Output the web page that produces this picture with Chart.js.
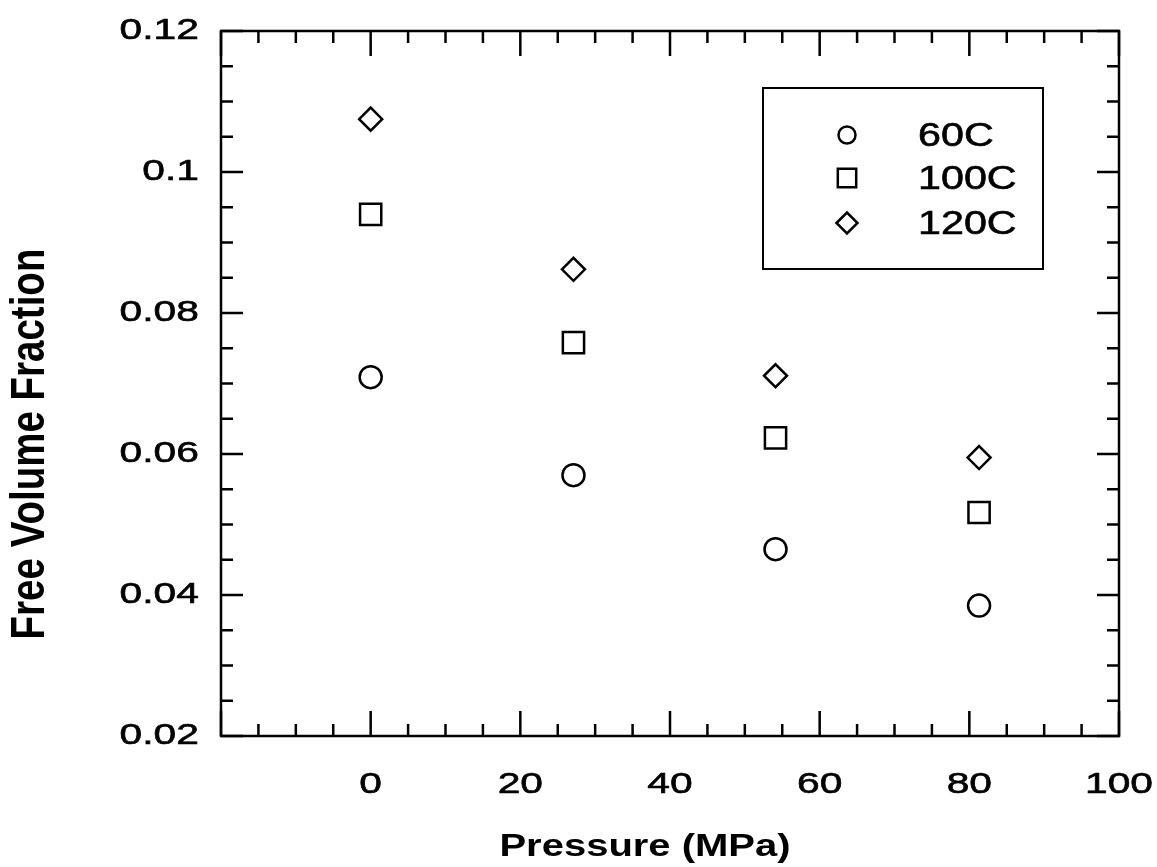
<!DOCTYPE html>
<html>
<head>
<meta charset="utf-8">
<script src="https://cdn.jsdelivr.net/npm/chart.js@4.4.0/dist/chart.umd.min.js"></script>
<style>
  html, body { margin: 0; padding: 0; background: #fff; }
  canvas { display: block; }
</style>
</head>
<body>
<canvas id="fvChart" width="1157" height="867"></canvas>
<script>
let pressure = [0, 27.1, 54.1, 81.3];
let fv60 = [0.0709, 0.0570, 0.0465, 0.0385];
let fv100 = [0.0940, 0.0758, 0.0623, 0.0517];
let fv120 = [0.1075, 0.0862, 0.0711, 0.0595];
let seriesLabels = ['60C', '100C', '120C'];
let xTitle = 'Pressure (MPa)';
let yTitle = 'Free Volume Fraction';

let family = '"Liberation Sans", Arial, Helvetica, sans-serif';
// the scanned figure has wide lettering, so text gets stretched sideways
let tickStretch = 1.36;
let stretch = { k: tickStretch };

function points(ys) {
  return pressure.map((p, i) => ({ x: p, y: ys[i] }));
}

function widen(ctx, name) {
  const orig = ctx[name].bind(ctx);
  ctx[name] = function (text, x, y) {
    const k = stretch.k;
    const m = ctx.getTransform();
    ctx.save();
    if (Math.abs(m.b) > 0.5) {
      ctx.scale(1, k);
      orig(text, x, y / k);
    } else {
      ctx.scale(k, 1);
      orig(text, x / k, y);
    }
    ctx.restore();
  };
}

const wideText = {
  id: 'wideText',
  beforeInit(chart) {
    widen(chart.ctx, 'fillText');
    widen(chart.ctx, 'strokeText');
  }
};

function boldish(ctx, text, x, y, w) {
  ctx.lineWidth = w;
  ctx.strokeText(text, x, y);
  ctx.fillText(text, x, y);
}

const frame = {
  id: 'frame',
  afterDraw(chart) {
    const { ctx, chartArea: a } = chart;
    const x = chart.scales.x, y = chart.scales.y;
    ctx.save();
    ctx.strokeStyle = '#000';
    ctx.lineWidth = 2.5;

    // inward ticks on all four sides
    ctx.beginPath();
    for (let i = 0; i <= 24; i++) {
      const px = x.getPixelForValue(-20 + i * 5);
      const len = i % 4 === 0 ? 25 : 12;
      ctx.moveTo(px, a.bottom); ctx.lineTo(px, a.bottom - len);
      ctx.moveTo(px, a.top); ctx.lineTo(px, a.top + len);
    }
    for (let i = 0; i <= 20; i++) {
      const py = y.getPixelForValue(0.02 + i * 0.005);
      const len = i % 4 === 0 ? 22 : 12;
      ctx.moveTo(a.left, py); ctx.lineTo(a.left + len, py);
      ctx.moveTo(a.right, py); ctx.lineTo(a.right - len, py);
    }
    ctx.stroke();
    ctx.strokeRect(a.left, a.top, a.width, a.height);

    // legend box
    ctx.lineWidth = 2;
    ctx.strokeRect(763, 88, 280, 181);
    const rows = [135, 178, 223];
    const legendSize = [8.5, 13, 10.5];
    chart.data.datasets.forEach((ds, i) => {
      ctx.fillStyle = 'rgba(0,0,0,0)';
      ctx.strokeStyle = '#000';
      ctx.lineWidth = 2.5;
      Chart.helpers.drawPoint(ctx, {
        pointStyle: ds.pointStyle, radius: legendSize[i], rotation: 0, borderWidth: 2.5
      }, 847, rows[i]);
      ctx.fillStyle = '#000';
      ctx.font = '33px ' + family;
      ctx.textAlign = 'left';
      ctx.textBaseline = 'alphabetic';
      stretch.k = 1.25;
      boldish(ctx, ds.label, 918, rows[i] + 11, 0.6);
    });

    // axis titles
    ctx.fillStyle = '#000';
    ctx.textAlign = 'center';
    ctx.textBaseline = 'middle';
    ctx.font = 'bold 31px ' + family;
    stretch.k = 1.29;
    ctx.fillText(xTitle, 645, 847);

    ctx.translate(31, 444);
    ctx.rotate(-Math.PI / 2);
    ctx.font = 'bold 38.5px ' + family;
    stretch.k = 1.25;
    ctx.fillText(yTitle, 0, 0);
    ctx.restore();
    stretch.k = tickStretch;
  }
};

let ctx = document.getElementById('fvChart').getContext('2d');

let fvChart = new Chart(ctx, {
  type: 'scatter',
  data: {
    datasets: [
      { label: seriesLabels[0], data: points(fv60), pointStyle: 'circle', pointRadius: 11 },
      { label: seriesLabels[1], data: points(fv100), pointStyle: 'rect', pointRadius: 15 },
      { label: seriesLabels[2], data: points(fv120), pointStyle: 'rectRot', pointRadius: 11.5 }
    ].map((ds) => Object.assign(ds, {
      borderColor: '#000',
      backgroundColor: 'rgba(0,0,0,0)',
      borderWidth: 2.5,
      pointHoverRadius: ds.pointRadius
    }))
  },
  options: {
    responsive: false,
    animation: false,
    devicePixelRatio: 1,
    layout: { padding: { left: 0, right: 38, top: 31, bottom: 0 } },
    plugins: {
      colors: { enabled: false },
      legend: { display: false },
      tooltip: { enabled: false }
    },
    scales: {
      x: {
        type: 'linear',
        min: -20,
        max: 100,
        grid: { display: false, drawTicks: false },
        border: { display: false },
        ticks: {
          stepSize: 20,
          padding: 31,
          color: '#000',
          textStrokeColor: '#000',
          textStrokeWidth: 0.6,
          font: { family: family, size: 30 },
          callback: (v) => (v < 0 ? '' : v)
        },
        afterFit: (scale) => {
          scale.height = 131;
          scale.paddingLeft = 0; scale.paddingRight = 0;
          scale.paddingTop = 0; scale.paddingBottom = 0;
        }
      },
      y: {
        type: 'linear',
        min: 0.02,
        max: 0.12,
        grid: { display: false, drawTicks: false },
        border: { display: false },
        ticks: {
          stepSize: 0.02,
          padding: 22,
          color: '#000',
          textStrokeColor: '#000',
          textStrokeWidth: 0.6,
          font: { family: family, size: 30 },
          callback: (v) => String(+v.toFixed(3))
        },
        afterFit: (scale) => {
          scale.width = 221;
          scale.paddingLeft = 0; scale.paddingRight = 0;
          scale.paddingTop = 0; scale.paddingBottom = 0;
        }
      }
    }
  },
  plugins: [wideText, frame]
});
</script>
</body>
</html>
